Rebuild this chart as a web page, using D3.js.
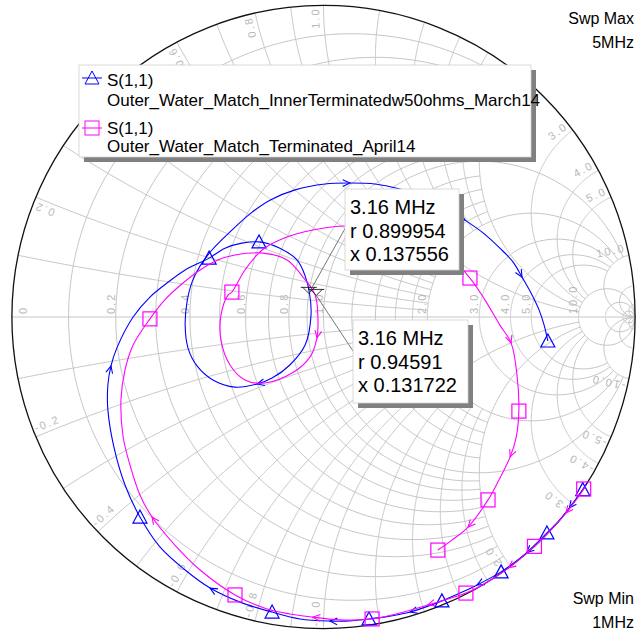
<!DOCTYPE html>
<html><head><meta charset="utf-8">
<script src="https://cdn.jsdelivr.net/npm/d3@7"></script>
<style>
body{margin:0;background:#fff}
svg{display:block}
text{font-family:"Liberation Sans",Arial,sans-serif}
</style>
</head><body>
<svg id="chart" width="637" height="632"></svg>
<script>
// ---------------- DATA ----------------
const sweepMin = "1MHz", sweepMax = "5MHz";
const seriesNames = ["Outer_Water_Match_InnerTerminatedw50ohms_March14", "Outer_Water_Match_Terminated_April14"];
const seriesParam = "S(1,1)";

// S(1,1) reflection coefficient, March14 trace (real / imaginary), 1 MHz -> 5 MHz
const marchRe = [0.847,0.832,0.789,0.757,0.717,0.652,0.615,0.570,0.493,0.438,0.380,0.278,0.213,0.146,0.069,0.021,-0.075,-0.165,-0.268,-0.364,-0.444,-0.525,-0.589,-0.637,-0.672,-0.692,-0.692,-0.682,-0.663,-0.611,-0.557,-0.502,-0.444,-0.367,-0.316,-0.262,-0.207,-0.140,-0.085,-0.059,-0.045,-0.040,-0.059,-0.108,-0.165,-0.213,-0.284,-0.355,-0.406,-0.435,-0.444,-0.438,-0.422,-0.396,-0.358,-0.300,-0.236,-0.172,-0.091,0.005,0.085,0.165,0.245,0.326,0.390,0.454,0.512,0.566,0.608,0.637,0.666,0.692,0.708,0.720];
const marchIm = [-0.531,-0.554,-0.613,-0.653,-0.693,-0.756,-0.786,-0.818,-0.860,-0.886,-0.911,-0.947,-0.960,-0.969,-0.976,-0.976,-0.969,-0.947,-0.915,-0.870,-0.812,-0.738,-0.642,-0.539,-0.420,-0.298,-0.218,-0.157,-0.099,0.000,0.064,0.109,0.151,0.189,0.221,0.237,0.241,0.221,0.183,0.132,0.077,0.006,-0.090,-0.154,-0.196,-0.215,-0.225,-0.202,-0.157,-0.099,-0.026,0.048,0.112,0.164,0.215,0.273,0.331,0.375,0.408,0.427,0.430,0.427,0.411,0.382,0.353,0.311,0.270,0.221,0.177,0.128,0.077,0.022,-0.026,-0.077];
const marchMarkers = [1,4,7,10,13,17,22,33,36,73];
const marchArrows = [2,5,8,11,15,19,27,45,60,65,69];

// S(1,1) reflection coefficient, April14 trace
const aprilRe = [0.842,0.835,0.778,0.728,0.677,0.594,0.532,0.457,0.335,0.245,0.156,0.053,-0.034,-0.108,-0.181,-0.284,-0.396,-0.477,-0.550,-0.589,-0.621,-0.643,-0.650,-0.637,-0.611,-0.557,-0.509,-0.451,-0.396,-0.339,-0.284,-0.194,-0.117,-0.069,-0.027,-0.018,-0.021,-0.043,-0.101,-0.188,-0.252,-0.300,-0.329,-0.329,-0.306,-0.294,-0.252,-0.197,-0.124,-0.034,0.063,0.181,0.294,0.390,0.470,0.518,0.566,0.602,0.621,0.627,0.618,0.599,0.563,0.528,0.464,0.412,0.367];
const aprilIm = [-0.540,-0.552,-0.629,-0.685,-0.736,-0.805,-0.847,-0.886,-0.924,-0.950,-0.969,-0.972,-0.963,-0.953,-0.937,-0.892,-0.812,-0.732,-0.642,-0.571,-0.475,-0.385,-0.266,-0.170,-0.090,-0.006,0.055,0.109,0.151,0.183,0.199,0.205,0.183,0.132,0.071,0.000,-0.067,-0.128,-0.180,-0.212,-0.202,-0.154,-0.074,0.006,0.071,0.080,0.151,0.215,0.254,0.279,0.292,0.286,0.260,0.209,0.125,0.055,-0.026,-0.083,-0.186,-0.302,-0.388,-0.449,-0.523,-0.587,-0.674,-0.716,-0.748];
const aprilMarkers = [1,4,7,10,15,25,45,54,59,63,66];
const aprilArrows = [2,5,8,12,18,36,57,61,64];

// 3.16 MHz marker readouts (normalised impedance)
const markerFreq = ["3.16 MHz", "3.16 MHz"];
const markerR = [0.899954, 0.94591];
const markerX = [0.137556, 0.131722];

// Smith grid values
const gridRFine = [0.1,0.2,0.3,0.4,0.5,0.6,0.7,0.8,0.9];
const gridXFine = [0.1,0.2,0.3,0.4,0.5,0.6,0.7,0.8,0.9];
const gridRMid = [1.2,1.4,1.6,1.8];
const gridXMid = [1.2,1.4,1.6,1.8];
const gridRMain = [1,2,3,4,5];
const gridXMain = [1,2,3,4,5];
const gridRHigh = [10,20,50];
const gridXHigh = [10,20,50];
const axisLabels = [0,0.2,0.4,0.6,0.8,1.0,2.0,3.0,4.0,5.0,10.0];
const rimLabels = [0.2,0.4,0.6,0.8,1.0,2.0,3.0,4.0,5.0,10.0];

// ---------------- DRAWING ----------------
const svg = d3.select("#chart");
const cx = 323.5, cy = 317, R = 311.6;
const sx = d3.scaleLinear().domain([-1,1]).range([cx-R, cx+R]);
const sy = d3.scaleLinear().domain([-1,1]).range([cy+R, cy-R]);
const line = d3.line().x(d=>sx(d[0])).y(d=>sy(d[1]));
const gridCol = "#c6c6c6", labCol = "#b8b8b8";
const BLUE = "#0000ff", PINK = "#ff00ff";

function gam(r, x){ const d=(r+1)*(r+1)+x*x; return [(r*r-1+x*x)/d, 2*x/d]; }
function zToG(r, x){ return gam(r,x); }
function rArc(r, x1, x2){
  const a1=Math.atan(x1), a2=Math.atan(x2), n=240;
  return d3.range(n+1).map(i=>{const a=a1+(a2-a1)*i/n; const xx=Math.abs(Math.abs(a)-Math.PI/2)<1e-9?Math.sign(a)*1e9:Math.tan(a); return gam(r,xx);});
}
function xArc(x, r1, r2){
  const b1=Math.atan(r1), b2=Math.atan(r2), n=240;
  return d3.range(n+1).map(i=>{const b=b1+(b2-b1)*i/n; const rr=Math.abs(b-Math.PI/2)<1e-9?1e9:Math.tan(b); return gam(rr,x);});
}
const gGrid = svg.append("g").attr("fill","none").attr("stroke",gridCol).attr("stroke-width",1);
function drawR(list, xl){ list.forEach(r=>gGrid.append("path").attr("d", line(rArc(r,-xl,xl)))); }
function drawX(list, rl){ list.forEach(x=>{ gGrid.append("path").attr("d", line(xArc(x,0,rl))); gGrid.append("path").attr("d", line(xArc(-x,0,rl))); }); }
drawR(gridRFine, 2); drawX(gridXFine, 2);
drawR(gridRMid, 2); drawX(gridXMid, 2);
drawR(gridRMain, 10); drawX(gridXMain, 10);
drawR(gridRHigh, Infinity); drawX(gridXHigh, Infinity);
// real axis
gGrid.append("line").attr("x1",sx(-1)).attr("x2",sx(1)).attr("y1",sy(0)).attr("y2",sy(0));

// labels
const gLab = svg.append("g").attr("fill",labCol).attr("font-size",11).attr("letter-spacing","2px");
axisLabels.forEach(r=>{
  const g = gam(r,0); const px = r===0 ? sx(-1)+15 : sx(g[0])-1; const py = sy(0)-3;
  gLab.append("text").attr("transform",`translate(${px},${py}) rotate(-90)`).text(r===0?"0":r.toFixed(1));
});
rimLabels.forEach(v=>{
  [v,-v].forEach(x=>{
    const g = gam(0,x); let th = Math.atan2(g[1],g[0]);
    const d = 0.8*Math.PI/180; th = x>0 ? th + d : th - d;
    const px = sx((R-2)/R*Math.cos(th)), py = sy((R-2)/R*Math.sin(th));
    const deg = -th*180/Math.PI;
    gLab.append("text").attr("transform",`translate(${px},${py}) rotate(${x>0?deg:deg-180})`)
      .attr("text-anchor", x>0?"end":"start").text((x<0?"-":"")+v.toFixed(1));
  });
});

// rim
svg.append("circle").attr("cx",sx(0)).attr("cy",sy(0)).attr("r",sx(1)-sx(0)).attr("fill","none").attr("stroke","#111").attr("stroke-width",1.3);

// traces
function trace(re, im, col, markers, arrows, shape){
  const pts = re.map((v,i)=>[v, im[i]]);
  const g = svg.append("g");
  g.append("path").attr("d", d3.line().x(d=>sx(d[0])).y(d=>sy(d[1])).curve(d3.curveCatmullRom.alpha(0.5))(pts))
    .attr("fill","none").attr("stroke",col).attr("stroke-width",1.1);
  arrows.forEach(i=>{
    const a=pts[Math.max(0,i-1)], b=pts[Math.min(pts.length-1,i+1)];
    const px=sx(pts[i][0]), py=sy(pts[i][1]);
    let dx=sx(b[0])-sx(a[0]), dy=sy(b[1])-sy(a[1]); const L=Math.hypot(dx,dy); dx/=L; dy/=L;
    const len=8, ang=25*Math.PI/180;
    const p1=[px-len*(dx*Math.cos(ang)-dy*Math.sin(ang)), py-len*(dx*Math.sin(ang)+dy*Math.cos(ang))];
    const p2=[px-len*(dx*Math.cos(-ang)-dy*Math.sin(-ang)), py-len*(dx*Math.sin(-ang)+dy*Math.cos(-ang))];
    g.append("path").attr("d",`M${p1[0]},${p1[1]}L${px},${py}L${p2[0]},${p2[1]}`).attr("fill","none").attr("stroke",col).attr("stroke-width",1.1);
  });
  markers.forEach(i=>{
    const px=sx(pts[i][0]), py=sy(pts[i][1]);
    if(shape==="tri") g.append("path").attr("d",`M${px},${py-7}L${px+7},${py+6}L${px-7},${py+6}Z`).attr("fill","none").attr("stroke",col).attr("stroke-width",1.2);
    else g.append("rect").attr("x",px-7).attr("y",py-7).attr("width",14).attr("height",14).attr("fill","none").attr("stroke",col).attr("stroke-width",1.2);
  });
}
trace(marchRe, marchIm, BLUE, marchMarkers, marchArrows, "tri");
trace(aprilRe, aprilIm, PINK, aprilMarkers, aprilArrows, "sq");

// 3.16 MHz markers
const mk = markerR.map((r,i)=>zToG(r, markerX[i]));
const gm = svg.append("g").attr("stroke","#000").attr("fill","none").attr("stroke-width",0.8);
mk.forEach(g=>{ const px=sx(g[0]), py=sy(g[1]);
  gm.append("path").attr("d",`M${px},${py}L${px-6},${py-6}M${px},${py}L${px+6},${py-6}M${px-8},${py-6}L${px+8},${py-6}`);
});
// leader lines
gm.append("line").attr("x1",sx(mk[0][0])).attr("y1",sy(mk[0][1])).attr("x2",347).attr("y2",225).attr("stroke","#555");
gm.append("line").attr("x1",sx(mk[1][0])).attr("y1",sy(mk[1][1])).attr("x2",357).attr("y2",357).attr("stroke","#555");

// readout boxes
function box(x,y,w,h,lines){
  svg.append("rect").attr("x",x+5).attr("y",y+5).attr("width",w).attr("height",h).attr("fill","#808080");
  svg.append("rect").attr("x",x).attr("y",y).attr("width",w).attr("height",h).attr("fill","#fff").attr("stroke","#d0d0d0").attr("stroke-width",0.8);
  lines.forEach((t,i)=>svg.append("text").attr("x",x+5).attr("y",y+25+i*23.5).attr("font-size",20).attr("fill","#000").text(t));
}
box(345,189,114,81,[markerFreq[0],"r "+markerR[0],"x "+markerX[0]]);
box(353,320,115,83,[markerFreq[1],"r "+markerR[1],"x "+markerX[1]]);

// legend
svg.append("rect").attr("x",84).attr("y",70).attr("width",452).attr("height",92).attr("fill","#808080");
svg.append("rect").attr("x",79).attr("y",65).attr("width",452).attr("height",92).attr("fill","#fff").attr("stroke","#d0d0d0").attr("stroke-width",0.8);
const lg = svg.append("g").attr("font-size",17).attr("fill","#000");
lg.append("line").attr("x1",82).attr("x2",102).attr("y1",78).attr("y2",78).attr("stroke",BLUE);
lg.append("path").attr("d","M92,71L99,84L85,84Z").attr("fill","none").attr("stroke",BLUE);
lg.append("text").attr("x",107).attr("y",86).text(seriesParam);
lg.append("text").attr("x",107).attr("y",106).text(seriesNames[0]);
lg.append("line").attr("x1",82).attr("x2",102).attr("y1",128).attr("y2",128).attr("stroke",PINK);
lg.append("rect").attr("x",85).attr("y",121).attr("width",14).attr("height",14).attr("fill","none").attr("stroke",PINK);
lg.append("text").attr("x",107).attr("y",134).text(seriesParam);
lg.append("text").attr("x",107).attr("y",152).text(seriesNames[1]);

// sweep labels
const sw = svg.append("g").attr("font-size",16).attr("fill","#000").attr("text-anchor","end");
sw.append("text").attr("x",634).attr("y",24).text("Swp Max");
sw.append("text").attr("x",634).attr("y",48).text(sweepMax);
sw.append("text").attr("x",634).attr("y",604).text("Swp Min");
sw.append("text").attr("x",634).attr("y",628).text(sweepMin);
</script>
</body></html>
